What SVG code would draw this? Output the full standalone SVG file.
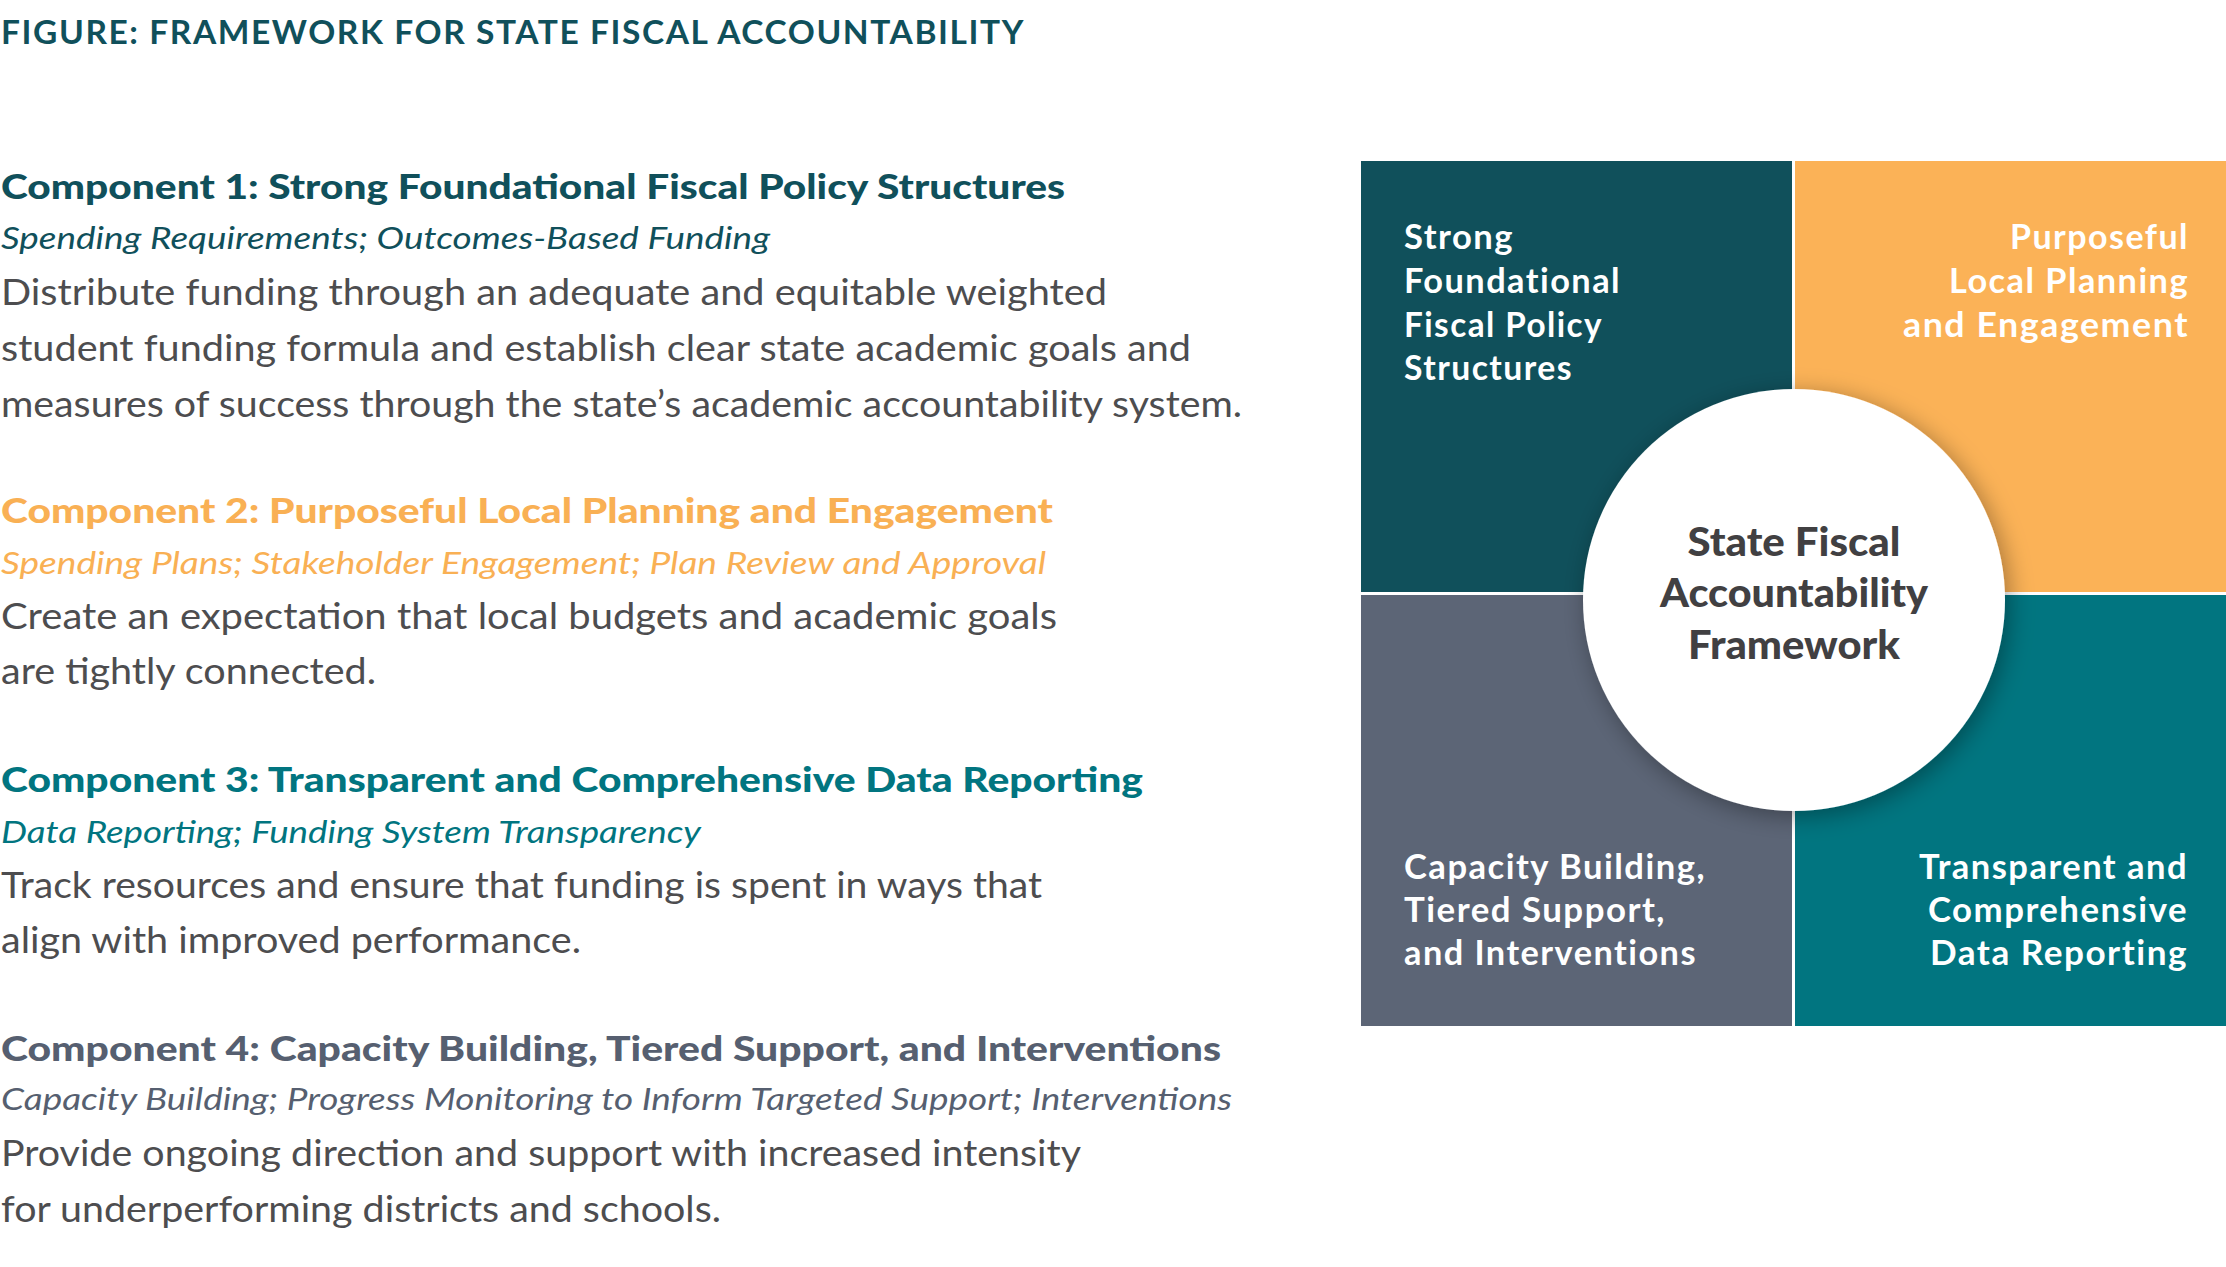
<svg xmlns="http://www.w3.org/2000/svg" width="2226" height="1267" viewBox="0 0 2226 1267">
<style>
text{font-family:Lato,"Noto Sans","Liberation Sans",sans-serif}
.title{font-size:32px;font-weight:700;fill:#10505b;letter-spacing:1.5px}
.h{font-size:35px;font-weight:900}
.s{font-size:31px;font-style:italic}
.b{font-size:37px;fill:#4d4d4f}
.q{font-size:35px;font-weight:700;fill:#ffffff;letter-spacing:1.5px}
.c{font-size:40px;font-weight:900;fill:#414042;text-anchor:middle}
.teal1{fill:#10505b}.orange{fill:#f9b054}.teal2{fill:#017580}.slate{fill:#565f70}
</style>
<defs>
<filter id="sh" x="-30%" y="-30%" width="160%" height="160%">
<feDropShadow dx="4" dy="5" stdDeviation="12" flood-color="#000" flood-opacity="0.35"/>
</filter>
</defs>
<rect width="2226" height="1267" fill="#ffffff"/>
<text class="title" x="1" y="44" textLength="1024" lengthAdjust="spacingAndGlyphs">FIGURE: FRAMEWORK FOR STATE FISCAL ACCOUNTABILITY</text>

<g id="component1">
<text class="h teal1" x="1" y="199" textLength="1064" lengthAdjust="spacingAndGlyphs">Component 1: Strong Foundational Fiscal Policy Structures</text>
<text class="s teal1" x="1" y="249" textLength="769" lengthAdjust="spacingAndGlyphs">Spending Requirements; Outcomes-Based Funding</text>
<text class="b" x="1" y="305" textLength="1106" lengthAdjust="spacingAndGlyphs">Distribute funding through an adequate and equitable weighted</text>
<text class="b" x="1" y="361" textLength="1190" lengthAdjust="spacingAndGlyphs">student funding formula and establish clear state academic goals and</text>
<text class="b" x="1" y="417" textLength="1241" lengthAdjust="spacingAndGlyphs">measures of success through the state’s academic accountability system.</text>
</g>
<g id="component2">
<text class="h orange" x="1" y="523" textLength="1052" lengthAdjust="spacingAndGlyphs">Component 2: Purposeful Local Planning and Engagement</text>
<text class="s orange" x="1" y="574" textLength="1045" lengthAdjust="spacingAndGlyphs">Spending Plans; Stakeholder Engagement; Plan Review and Approval</text>
<text class="b" x="1" y="629" textLength="1056" lengthAdjust="spacingAndGlyphs">Create an expectation that local budgets and academic goals</text>
<text class="b" x="1" y="684" textLength="375" lengthAdjust="spacingAndGlyphs">are tightly connected.</text>
</g>
<g id="component3">
<text class="h teal2" x="1" y="792" textLength="1142" lengthAdjust="spacingAndGlyphs">Component 3: Transparent and Comprehensive Data Reporting</text>
<text class="s teal2" x="1" y="843" textLength="700" lengthAdjust="spacingAndGlyphs">Data Reporting; Funding System Transparency</text>
<text class="b" x="1" y="898" textLength="1041" lengthAdjust="spacingAndGlyphs">Track resources and ensure that funding is spent in ways that</text>
<text class="b" x="1" y="953" textLength="580" lengthAdjust="spacingAndGlyphs">align with improved performance.</text>
</g>
<g id="component4">
<text class="h slate" x="1" y="1061" textLength="1220" lengthAdjust="spacingAndGlyphs">Component 4: Capacity Building, Tiered Support, and Interventions</text>
<text class="s slate" x="1" y="1110" textLength="1231" lengthAdjust="spacingAndGlyphs">Capacity Building; Progress Monitoring to Inform Targeted Support; Interventions</text>
<text class="b" x="1" y="1166" textLength="1080" lengthAdjust="spacingAndGlyphs">Provide ongoing direction and support with increased intensity</text>
<text class="b" x="1" y="1222" textLength="720" lengthAdjust="spacingAndGlyphs">for underperforming districts and schools.</text>
</g>

<g id="quad-strong">
<rect x="1361" y="161" width="431" height="431" fill="#10505b"/>
<text class="q" x="1404" y="249" textLength="110" lengthAdjust="spacingAndGlyphs">Strong</text>
<text class="q" x="1404" y="293" textLength="217" lengthAdjust="spacingAndGlyphs">Foundational</text>
<text class="q" x="1404" y="337" textLength="199" lengthAdjust="spacingAndGlyphs">Fiscal Policy</text>
<text class="q" x="1404" y="380" textLength="169" lengthAdjust="spacingAndGlyphs">Structures</text>
</g>
<g id="quad-purposeful">
<rect x="1795" y="161" width="431" height="431" fill="#fbb257"/>
<text class="q" x="2010" y="249" textLength="179" lengthAdjust="spacingAndGlyphs">Purposeful</text>
<text class="q" x="1949" y="293" textLength="240" lengthAdjust="spacingAndGlyphs">Local Planning</text>
<text class="q" x="1903" y="337" textLength="286" lengthAdjust="spacingAndGlyphs">and Engagement</text>
</g>
<g id="quad-capacity">
<rect x="1361" y="595" width="431" height="431" fill="#5c6576"/>
<text class="q" x="1404" y="879" textLength="302" lengthAdjust="spacingAndGlyphs">Capacity Building,</text>
<text class="q" x="1404" y="922" textLength="262" lengthAdjust="spacingAndGlyphs">Tiered Support,</text>
<text class="q" x="1404" y="965" textLength="293" lengthAdjust="spacingAndGlyphs">and Interventions</text>
</g>
<g id="quad-transparent">
<rect x="1795" y="595" width="431" height="431" fill="#017580"/>
<text class="q" x="1919" y="879" textLength="269" lengthAdjust="spacingAndGlyphs">Transparent and</text>
<text class="q" x="1928" y="922" textLength="260" lengthAdjust="spacingAndGlyphs">Comprehensive</text>
<text class="q" x="1930" y="965" textLength="258" lengthAdjust="spacingAndGlyphs">Data Reporting</text>
</g>
<g id="center">
<circle cx="1794" cy="600" r="211" fill="#ffffff" filter="url(#sh)"/>
<text class="c" x="1794" y="556" textLength="213" lengthAdjust="spacingAndGlyphs">State Fiscal</text>
<text class="c" x="1794" y="607" textLength="268" lengthAdjust="spacingAndGlyphs">Accountability</text>
<text class="c" x="1794" y="659" textLength="212" lengthAdjust="spacingAndGlyphs">Framework</text>
</g>
<g id="connectors"></g>
</svg>
